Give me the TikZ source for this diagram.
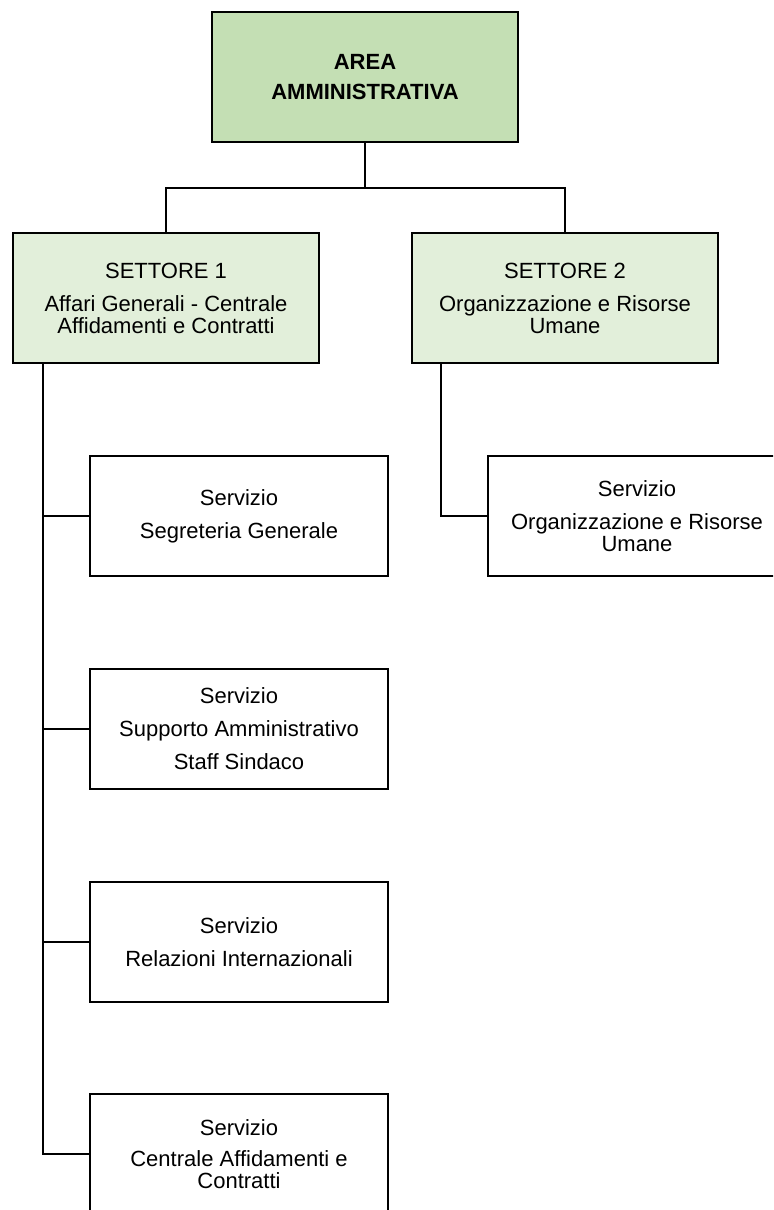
\documentclass[tikz,border=0pt]{standalone}
\usepackage{fontspec}
\setmainfont{Liberation Sans}
\definecolor{areagreen}{RGB}{196,223,180}
\definecolor{settgreen}{RGB}{226,239,218}
\tikzstyle{areabox} = [rectangle, minimum width=153pt, minimum height=65pt, text centered, align=center, draw=black, line width=1.3pt, fill=areagreen, font=\fontsize{11}{11}\selectfont\bfseries]
\tikzstyle{settore} = [rectangle, minimum width=153pt, minimum height=65pt, text centered, align=center, draw=black, line width=1.3pt, fill=settgreen, font=\fontsize{11}{11}\selectfont]
\tikzstyle{servizio} = [rectangle, minimum width=149pt, minimum height=60pt, text centered, align=center, draw=black, line width=1.3pt, fill=white, font=\fontsize{11}{11}\selectfont]
\tikzstyle{conn} = [line width=1pt]

\begin{document}
\begin{tikzpicture}[x=0.5pt, y=-0.5pt]
	\clip (0,0) rectangle (773,1210);
	\fill[white] (0,0) rectangle (773,1210);
	\node (area) [areabox] at (365,77) {AREA\\[4pt]AMMINISTRATIVA};
	\node (set1) [settore] at (166,298) {SETTORE 1\\[5.5pt]Affari Generali - Centrale\\Affidamenti e Contratti};
	\node (set2) [settore] at (565,298) {SETTORE 2\\[5.5pt]Organizzazione e Risorse\\Umane};
	\node (ser1) [servizio] at (239,516) {Servizio\\[5.5pt]Segreteria Generale};
	\node (ser2) [servizio] at (239,729) {Servizio\\[5.5pt]Supporto Amministrativo\\[5.5pt]Staff Sindaco};
	\node (ser3) [servizio] at (239,942) {Servizio\\[5.5pt]Relazioni Internazionali};
	\node (ser4) [servizio] at (239,1154) {Servizio\\[4.5pt]Centrale Affidamenti e\\Contratti};
	\node (ser5) [servizio] at (637,516) {Servizio\\[5.5pt]Organizzazione e Risorse\\Umane};
	\coordinate (fork) at (365,188);

	\draw [conn] (area.south) -- (fork);
	\draw [conn] (fork) -| (set1.north);
	\draw [conn] (fork) -| (set2.north);
	\foreach \s in {ser1,ser2,ser3,ser4}
		\draw [conn] ([xshift=15.5pt]set1.south west) |- (\s.west);
	\draw [conn] ([xshift=15pt]set2.south west) |- (ser5.west);
\end{tikzpicture}
\end{document}
